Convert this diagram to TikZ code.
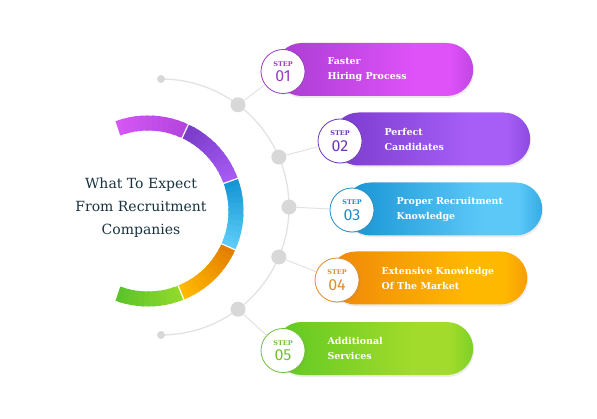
\documentclass[tikz,border=0pt]{standalone}
\usepackage{fontspec}
\setmainfont{DejaVu Serif}
\newfontfamily\numfont{Fira Sans}
\usetikzlibrary{positioning,shadows}

\definecolor{ink}{HTML}{17323F}
\definecolor{greyline}{HTML}{E2E2E2}
\definecolor{greydot}{HTML}{D8D8D8}
% step colours: dark, light, text
\definecolor{oneA}{HTML}{A93CD2}\definecolor{oneB}{HTML}{DE52F8}\definecolor{oneT}{HTML}{9B3BC0}
\definecolor{twoA}{HTML}{7A3BCC}\definecolor{twoB}{HTML}{A65EF7}\definecolor{twoT}{HTML}{6D37B8}
\definecolor{thrA}{HTML}{1593D3}\definecolor{thrB}{HTML}{5CC8F8}\definecolor{thrT}{HTML}{1D8FC6}
\definecolor{fouA}{HTML}{EF870A}\definecolor{fouB}{HTML}{FFB800}\definecolor{fouT}{HTML}{E08C2A}
\definecolor{fivA}{HTML}{5EC922}\definecolor{fivB}{HTML}{A2DB2B}\definecolor{fivT}{HTML}{72C03A}
% ring segments, start and end colour
\definecolor{segOa}{HTML}{D456F3}\definecolor{segOb}{HTML}{B446DE}
\definecolor{segTa}{HTML}{7A3CC9}\definecolor{segTb}{HTML}{A65AF2}
\definecolor{segHa}{HTML}{1496D5}\definecolor{segHb}{HTML}{5CCBF8}
\definecolor{segFa}{HTML}{E27F00}\definecolor{segFb}{HTML}{FFB900}
\definecolor{segVa}{HTML}{5CC42A}\definecolor{segVb}{HTML}{92D92B}

\colorlet{pillA}{black}\colorlet{pillB}{white}\colorlet{pillC}{gray}
\pgfdeclarehorizontalshading[pillA,pillB,pillC]{pill}{100bp}{color(0bp)=(pillA); color(25bp)=(pillA);
  color(60bp)=(pillB); color(69bp)=(pillB); color(75bp)=(pillC); color(100bp)=(pillC)}

\newcommand\steplabel[1]{{\fontsize{6.5pt}{15.5pt}\selectfont\bfseries STEP}\\{\numfont #1}}

\begin{document}
\begin{tikzpicture}[x=1pt,y=1pt,
  arcline/.style={draw=greyline,line width=1.3pt},
  bigdot/.style={circle,fill=greydot,minimum size=15pt,inner sep=0pt},
  smalldot/.style={circle,fill=greydot,minimum size=8pt,inner sep=0pt},
  link/.style={draw=greyline,line width=1pt},
  ringseg/.style={line width=15pt},
  title/.style={align=center,text=ink,font=\fontsize{14pt}{23pt}\selectfont},
  pill/.style 2 args={rectangle,rounded corners=26.5pt,minimum width=198pt,minimum height=53pt,
    inner sep=0pt,anchor=west,
    /utils/exec={\colorlet{pillA}{#1}\colorlet{pillB}{#2}\colorlet{pillC}{#1!55!#2}},
    shading=pill,drop shadow={opacity=0.15,shadow xshift=1pt,shadow yshift=-2pt}},
  pill text/.style={anchor=west,align=left,text=white,font=\fontsize{9.5pt}{15pt}\selectfont\bfseries},
  step circle/.style={circle,fill=white,draw=#1,line width=0.8pt,minimum size=44pt,inner sep=0pt,
    text=#1,align=center,font=\fontsize{16pt}{15.5pt}\selectfont,
    drop shadow={opacity=0.18,shadow xshift=1.5pt,shadow yshift=-1pt}}]

  \useasboundingbox (0,0) rectangle (597,418);

  % outer grey arc with dots
  \coordinate (ac) at (161,211);
  \draw[arcline] ([shift={(90:128)}]ac) arc[start angle=90,end angle=-90,radius=128];
  \node[smalldot] (e1) at ([shift={(90:128)}]ac) {};
  \node[smalldot] (e2) at ([shift={(-90:128)}]ac) {};
  \foreach \i/\a in {1/53,2/23,3/0,4/-23,5/-53}
    \node[bigdot] (d\i) at ([shift={(\a:128)}]ac) {};

  % coloured ring, each segment blended in small steps
  \coordinate (rc) at (148,207);
  \foreach \a/\b/\ca/\cb in {110/65/segOa/segOb,65/20/segTa/segTb,20/-24/segHa/segHb,
                             -24/-68/segFa/segFb,-68/-110/segVb/segVa}{
    \foreach \k in {0,...,11}{
      \pgfmathsetmacro\s{\a+(\b-\a)*\k/12}
      \pgfmathsetmacro\e{\a+(\b-\a)*min(\k+1.4,12)/12}
      \pgfmathtruncatemacro\p{100-100*\k/11}
      \draw[ringseg,\ca!\p!\cb] ([shift={(\s:88)}]rc) arc[start angle=\s,end angle=\e,radius=88];
    }
  }
  \foreach \a in {65,20,-24,-68}
    \draw[white,line width=1.2pt] ([shift={(\a:80)}]rc) -- ([shift={(\a:96.5)}]rc);

  \node[title] (tt) at (141,210) {What To Expect\\From Recruitment\\Companies};

  % pills
  \node[pill={oneA}{oneB}] (p1) at (275,348.5) {};
  \node[pill={twoA}{twoB}] (p2) at (332,279) {};
  \node[pill={thrA}{thrB}] (p3) at (344,209) {};
  \node[pill={fouA}{fouB}] (p4) at (329,140) {};
  \node[pill={fivA}{fivB}] (p5) at (275,69.5) {};

  \node[pill text] (t1) at ([xshift=49pt]p1.west) {Faster\\Hiring Process};
  \node[pill text] (t2) at ([xshift=49pt]p2.west) {Perfect\\Candidates};
  \node[pill text] (t3) at ([xshift=49pt]p3.west) {Proper Recruitment\\Knowledge};
  \node[pill text] (t4) at ([xshift=49pt]p4.west) {Extensive Knowledge\\Of The Market};
  \node[pill text] (t5) at ([xshift=49pt]p5.west) {Additional\\Services};

  % step badges
  \node[step circle=oneT] (s1) at ([xshift=8pt,yshift=-2pt]p1.west) {\steplabel{01}};
  \node[step circle=twoT] (s2) at ([xshift=8pt,yshift=-2pt]p2.west) {\steplabel{02}};
  \node[step circle=thrT] (s3) at ([xshift=8pt,yshift=-1pt]p3.west) {\steplabel{03}};
  \node[step circle=fouT] (s4) at ([xshift=8pt,yshift=-2pt]p4.west) {\steplabel{04}};
  \node[step circle=fivT] (s5) at ([xshift=8pt,yshift=-2pt]p5.west) {\steplabel{05}};

  \path[link]
    (d1) edge (s1)
    (d2) edge (s2)
    (d3) edge (s3)
    (d4) edge (s4)
    (d5) edge (s5);
\end{tikzpicture}
\end{document}
